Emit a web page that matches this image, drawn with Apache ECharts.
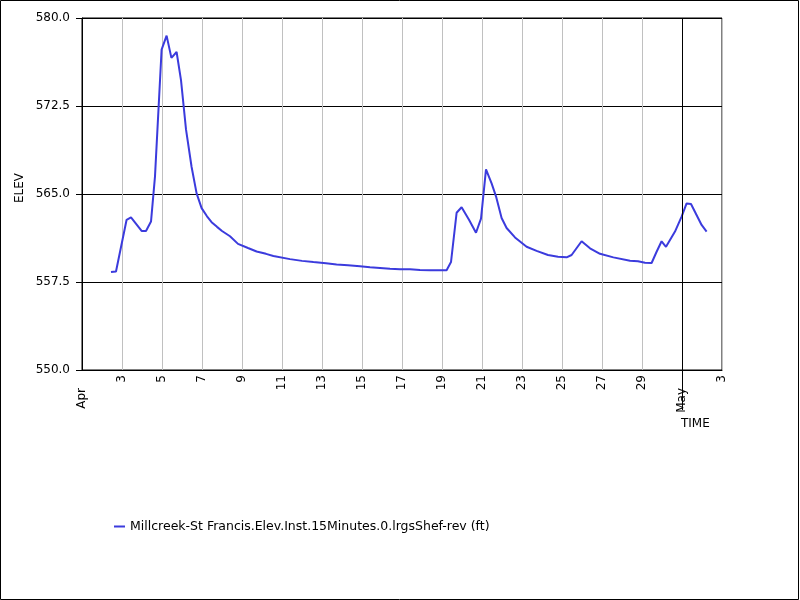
<!DOCTYPE html>
<html>
<head>
    <meta charset="UTF-8">
    <title>ELEV</title>
    <script src="https://cdn.jsdelivr.net/npm/echarts@6/dist/echarts.min.js"></script>
    <style>
        html, body { margin: 0; padding: 0; background: #fff; }
        #main { width: 800px; height: 600px; }
    </style>
</head>
<body>
<div id="main"></div>
<script type="text/javascript">

    // time in days of April (1 = Apr 1 00:00, 31 = May 1)
    var times = [2.45, 2.70, 3.23, 3.45, 3.98, 4.20, 4.45, 4.65, 4.98, 5.23, 5.47, 5.73, 5.95,
        6.20, 6.48, 6.73, 6.98, 7.25, 7.48, 7.75, 8.00, 8.40, 8.80, 9.30, 9.73, 10.20, 10.57,
        11.40, 12.00, 12.57, 13.20, 13.73, 14.30, 14.90, 15.40, 15.90, 16.40, 16.90, 17.40,
        17.90, 18.40, 19.23, 19.45, 19.73, 19.98, 20.35, 20.70, 20.95, 21.20, 21.48, 21.70,
        21.98, 22.23, 22.65, 23.23, 23.73, 24.30, 24.80, 25.23, 25.48, 25.98, 26.40, 26.90,
        27.57, 28.40, 28.80, 29.15, 29.48, 29.73, 29.98, 30.20, 30.65, 30.98, 31.23, 31.45,
        31.98, 32.23];
    var elev = [558.35, 558.40, 562.80, 563.00, 561.85, 561.85, 562.65, 566.50, 577.30, 578.50, 576.60, 577.10, 574.70,
        570.50, 567.30, 565.05, 563.80, 563.10, 562.60, 562.20, 561.85, 561.40, 560.75, 560.40, 560.10, 559.90, 559.72,
        559.45, 559.30, 559.20, 559.10, 559.00, 558.93, 558.84, 558.75, 558.70, 558.63, 558.58, 558.58,
        558.52, 558.50, 558.50, 559.20, 563.40, 563.87, 562.80, 561.70, 562.90, 567.10, 565.90, 564.80,
        562.95, 562.10, 561.30, 560.50, 560.15, 559.80, 559.66, 559.60, 559.80, 560.97, 560.37, 559.90,
        559.60, 559.32, 559.26, 559.14, 559.12, 560.08, 560.97, 560.50, 561.80, 563.07, 564.20, 564.15,
        562.36, 561.80];
    var seriesName = 'Millcreek-St Francis.Elev.Inst.15Minutes.0.lrgsShef-rev (ft)';
    var monthTicks = [1, 31];
    var monthNames = ['Apr', 'May'];

    var pts = [];
    for (var i = 0; i < times.length; i++) {
        pts.push([times[i], elev[i]]);
    }

    var font = 'DejaVu Sans';
    var myChart = echarts.init(document.getElementById('main'));

    option = {
        animation: false,
        backgroundColor: '#fff',
        grid: {
            left: 82, top: 18, right: 78, bottom: 230,
            show: true, borderColor: '#000', borderWidth: 1
        },
        legend: {
            left: 109, top: 515,
            icon: 'rect', itemWidth: 11, itemHeight: 2, itemGap: 10,
            textStyle: { fontFamily: font, fontSize: 12.5, color: '#000' },
            data: [seriesName]
        },
        xAxis: [{
            type: 'value', min: 1, max: 33, interval: 2,
            axisLine: { lineStyle: { color: '#000' } },
            axisTick: { show: false },
            axisLabel: {
                rotate: 90, margin: 5, fontFamily: font, fontSize: 12, color: '#000',
                formatter: function (v) {
                    if (v == 1 || v == 31) return '';
                    return v > 31 ? String(v - 30) : String(v);
                }
            },
            splitLine: { show: true, lineStyle: { color: '#c0c0c0', width: 1 } }
        }, {
            // month labels + long tick at the month boundary
            type: 'value', min: 1, max: 33, position: 'bottom',
            axisLine: { show: false },
            axisTick: { show: true, customValues: [31], length: 40, lineStyle: { color: '#000' } },
            axisLabel: {
                customValues: monthTicks, rotate: 90, margin: 18,
                fontFamily: font, fontSize: 12, color: '#000',
                formatter: function (v) { return monthNames[monthTicks.indexOf(v)]; }
            },
            splitLine: { show: false }
        }],
        yAxis: {
            type: 'value', min: 550, max: 580, interval: 7.5,
            axisLine: { show: true, lineStyle: { color: '#000' } },
            axisTick: { show: true, length: 6, lineStyle: { color: '#000' } },
            axisLabel: {
                margin: 12, fontFamily: font, fontSize: 12, color: '#000',
                formatter: function (v) { return v.toFixed(1); }
            },
            splitLine: { show: true, lineStyle: { color: '#000', width: 1 } }
        },
        graphic: [
            { type: 'rect', silent: true, z: 100,
              shape: { x: 0.5, y: 0.5, width: 798, height: 599 },
              style: { fill: null, stroke: '#000', lineWidth: 1 } },
            { type: 'text', x: 681, y: 418, silent: true,
              style: { text: 'TIME', fontFamily: font, fontSize: 12, fill: '#000' } },
            { type: 'text', x: 20, y: 188, rotation: Math.PI / 2, silent: true,
              style: { text: 'ELEV', fontFamily: font, fontSize: 12, fill: '#000', align: 'center', verticalAlign: 'middle' } }
        ],
        series: [{
            name: seriesName,
            type: 'line',
            data: pts,
            color: '#3b3bdd',
            showSymbol: false,
            lineStyle: { width: 2 },
            markLine: {
                silent: true, symbol: 'none', label: { show: false },
                lineStyle: { color: '#000', type: 'solid', width: 1 },
                data: [{ xAxis: 31 }]
            }
        }]
    };
    myChart.setOption(option);
</script>
</body>
</html>
